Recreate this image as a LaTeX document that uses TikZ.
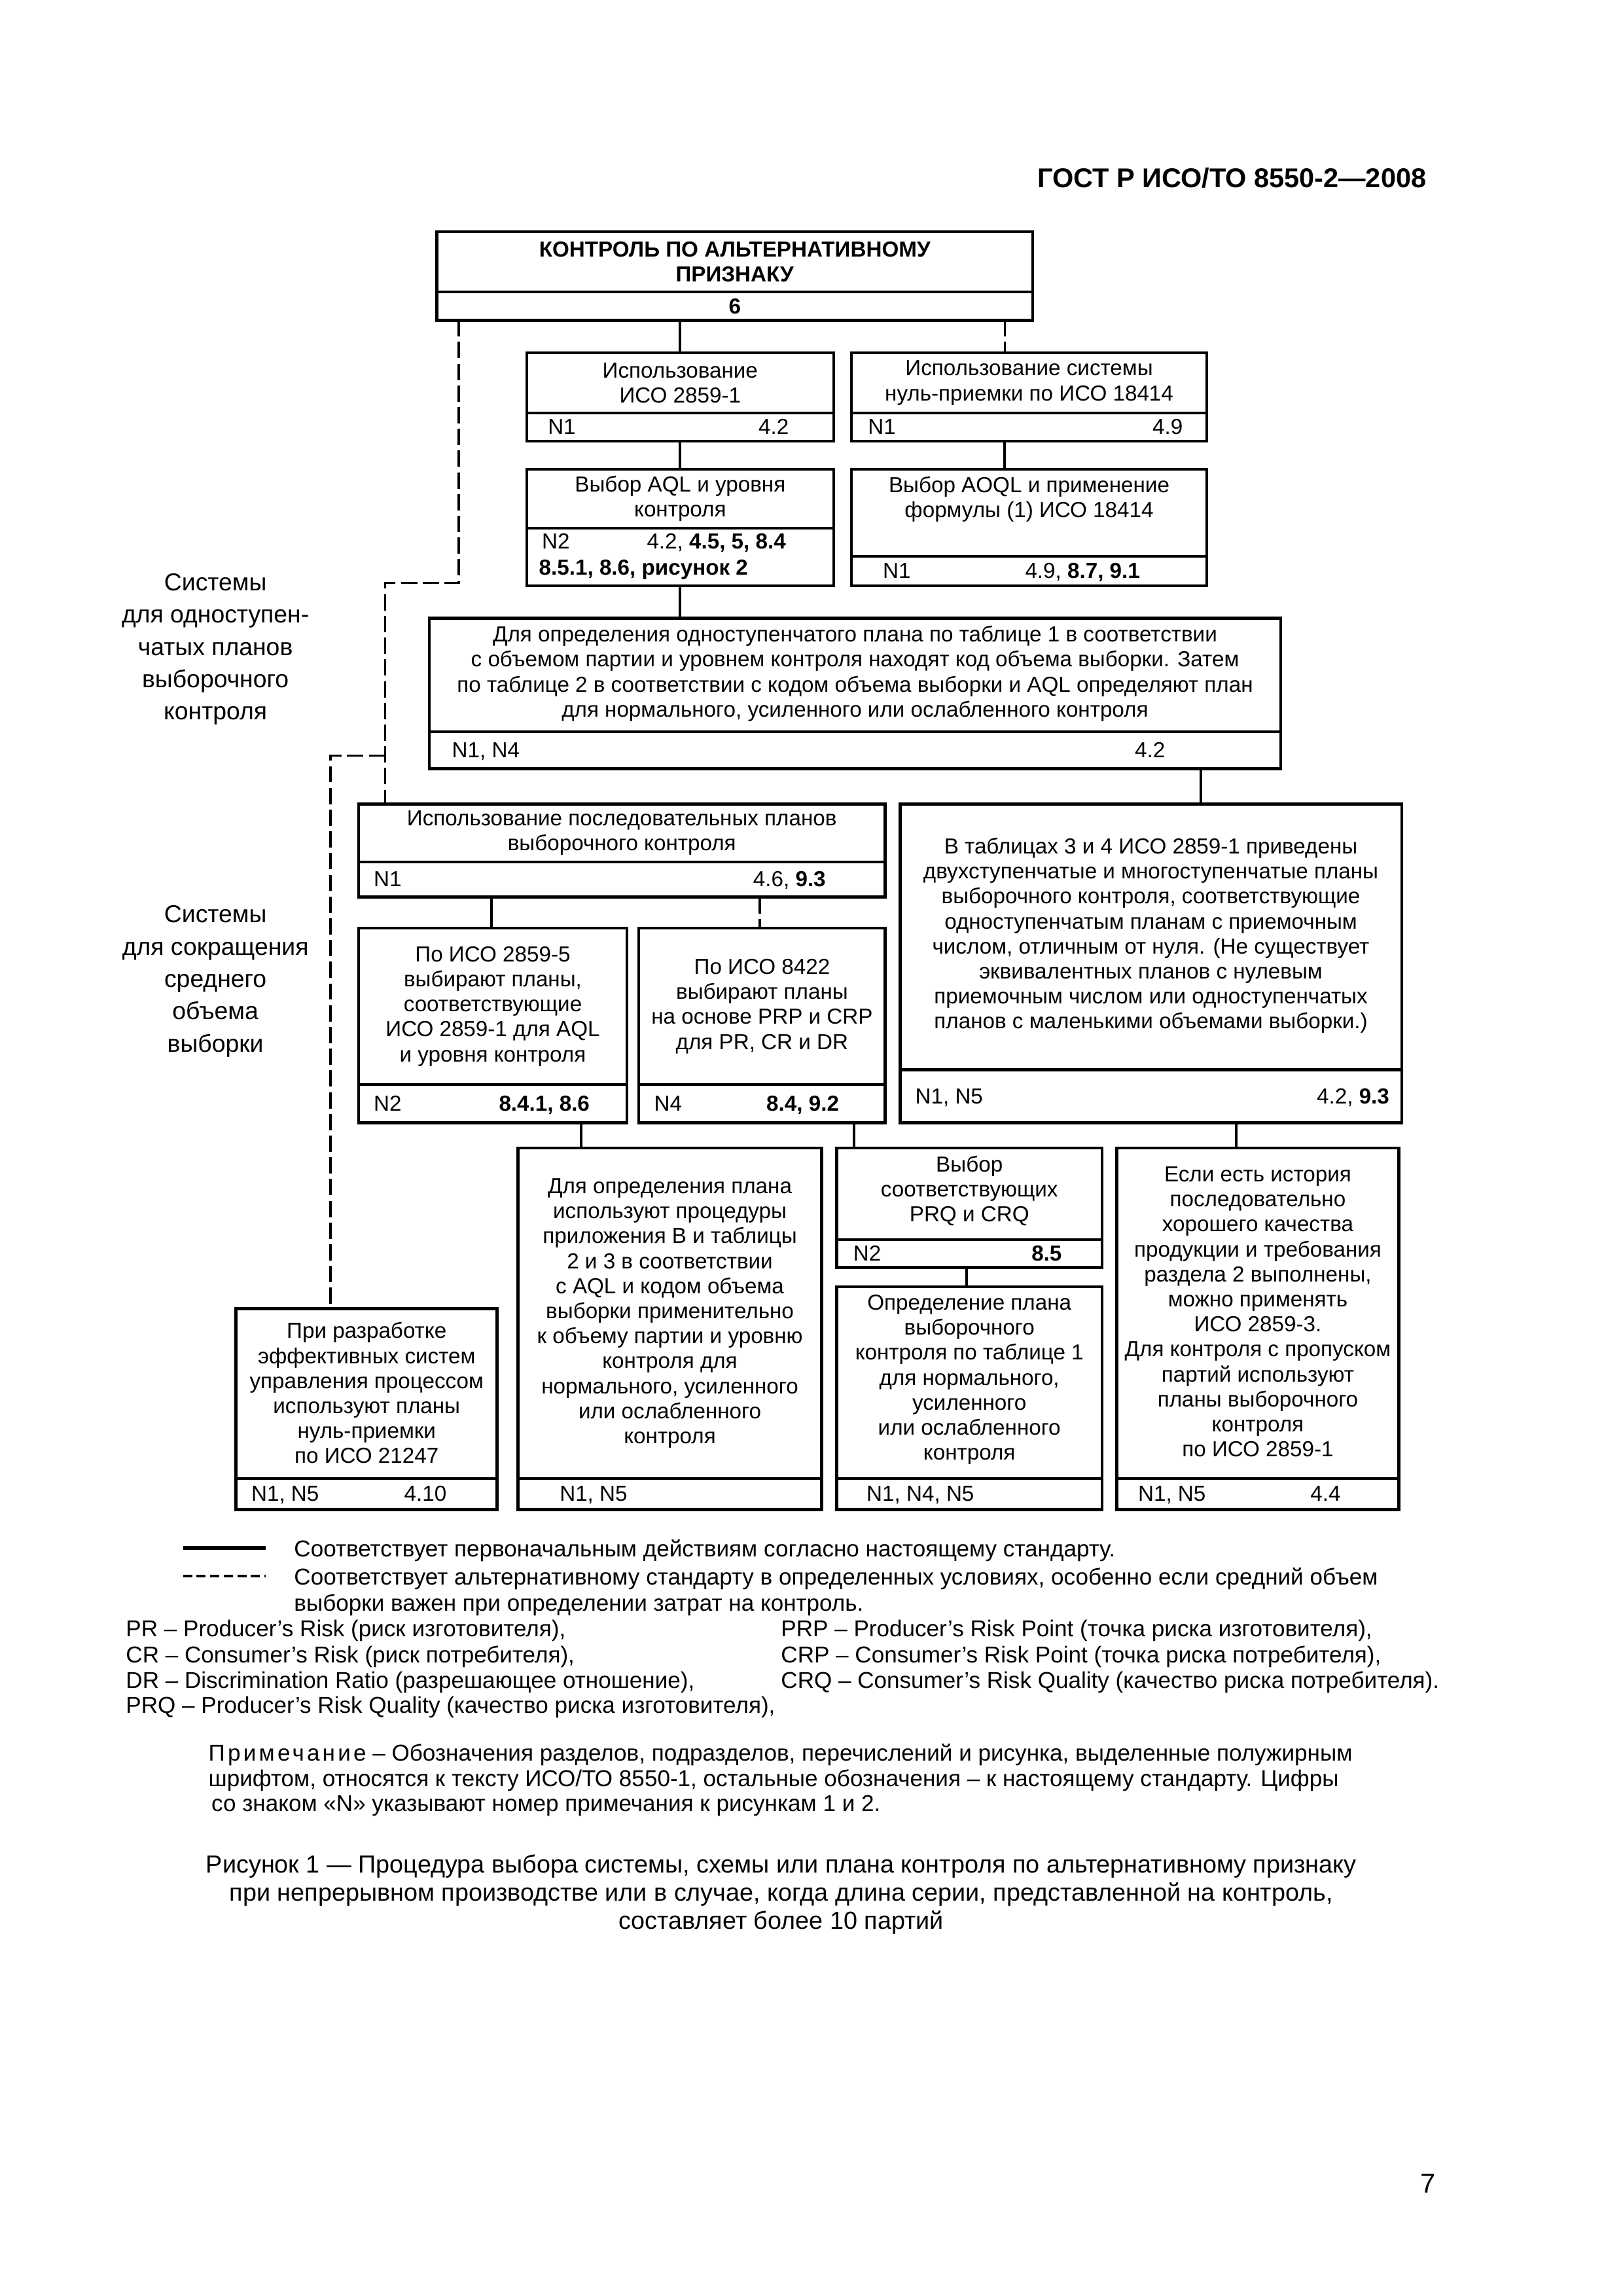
\documentclass[tikz,border=0pt]{standalone}
\usepackage{fontspec}
\setmainfont{Liberation Sans}
\usetikzlibrary{calc}
\newcommand{\mkbox}[6]{%
  \node[box, minimum width={(#4-#2)*0.19091mm}, minimum height={(#5-#3)*0.19091mm}] (#1) at ({(#2+#4)/2},{(#3+#5)/2}) {};
  \coordinate (#1dv) at (0,#6);
  \draw[divider] (#1.west |- #1dv) -- (#1.east |- #1dv);
}
\tikzset{
  box/.style={draw, line width=1.1pt, inner sep=0pt, outer sep=0pt, rectangle},
  divider/.style={line width=1pt},
  conn/.style={line width=1pt},
  altconn/.style={line width=0.8pt, dash pattern=on 6pt off 2pt},
  txt/.style={font=\fontsize{8}{9.2}\selectfont, align=center, inner sep=0pt},
  ft/.style={font=\fontsize{8}{9.2}\selectfont, inner sep=0pt, anchor=base west},
  fr/.style={font=\fontsize{8}{9.2}\selectfont, inner sep=0pt, anchor=base east},
  side/.style={font=\fontsize{9}{11.9}\selectfont, align=center, inner sep=0pt},
  para/.style={font=\fontsize{8.45}{9.5}\selectfont, inner sep=0pt, anchor=base west},
}
\begin{document}
\begin{tikzpicture}[x=0.19091mm, y=-0.19091mm]
\fill[white] (0,0) rectangle (1100,1556);
\useasboundingbox (0,0) rectangle (1100,1556);

% header and page number
\node[font=\bfseries\fontsize{10}{12}\selectfont, inner sep=0pt, anchor=base east] (hdr) at (967,127) {ГОСТ Р ИСО/ТО 8550-2—2008};
\node[font=\fontsize{10}{12}\selectfont, inner sep=0pt, anchor=base] (pg) at (968,1486) {7};

% boxes
\mkbox{A}{296}{157}{700}{217}{198}
\node[txt, font=\fontsize{8}{9.2}\selectfont\bfseries] (At) at (498,177.5) {КОНТРОЛЬ ПО АЛЬТЕРНАТИВНОМУ\\ПРИЗНАКУ};
\node[txt, font=\fontsize{8}{9.2}\selectfont\bfseries] (A6) at (498,207.5) {6};

\mkbox{B}{357}{239}{565}{299}{280}
\node[txt] (Bt) at (461,259.5) {Использование\\ИСО 2859-1};
\node[ft] (Bl) at (371,294.5) {N1};
\node[fr] (Br) at (535,294.5) {4.2};

\mkbox{C}{577}{239}{818}{299}{280}
\node[txt] (Ct) at (697.5,259.5) {Использование системы\\нуль-приемки по ИСО 18414};
\node[ft] (Cl) at (588,294.5) {N1};
\node[fr] (Cr) at (802,294.5) {4.9};

\mkbox{D}{357}{318}{565}{397}{358}
\node[txt] (Dt) at (461,338) {Выбор AQL и уровня\\контроля};
\node[ft] (Dl) at (367,372) {N2};
\node[fr] (Dr) at (533,372) {4.2, \textbf{4.5, 5, 8.4}};
\node[ft] (Dl2) at (365,389.5) {\textbf{8.5.1, 8.6, рисунок 2}};

\mkbox{E}{577}{318}{818}{397}{377}
\node[txt] (Et) at (697.5,338.5) {Выбор AOQL и применение\\формулы (1) ИСО 18414};
\node[ft] (El) at (598,392) {N1};
\node[fr] (Er) at (773,392) {4.9, \textbf{8.7, 9.1}};

\mkbox{F}{291}{419}{868}{521}{496}
\node[txt] (Ft) at (579.5,456.5) {Для определения одноступенчатого плана по таблице 1 в соответствии\\с объемом партии и уровнем контроля находят код объема выборки. Затем\\по таблице 2 в соответствии с кодом объема выборки и AQL определяют план\\для нормального, усиленного или ослабленного контроля};
\node[ft] (Fl) at (306,513.5) {N1, N4};
\node[fr] (Fr) at (790,513.5) {4.2};

\mkbox{G}{243}{545}{600}{608}{584}
\node[txt] (Gt) at (421.5,564.5) {Использование последовательных планов\\выборочного контроля};
\node[ft] (Gl) at (253,601) {N1};
\node[fr] (Gr) at (560,601) {4.6, \textbf{9.3}};

\mkbox{I}{610}{545}{950}{761}{725}
\node[txt] (It) at (780,634) {В таблицах 3 и 4 ИСО 2859-1 приведены\\двухступенчатые и многоступенчатые планы\\выборочного контроля, соответствующие\\одноступенчатым планам с приемочным\\числом, отличным от нуля. (Не существует\\эквивалентных планов с нулевым\\приемочным числом или одноступенчатых\\планов с маленькими объемами выборки.)};
\node[ft] (Il) at (620,748) {N1, N5};
\node[fr] (Ir) at (942,748) {4.2, \textbf{9.3}};

\mkbox{HA}{243}{629}{425}{761}{735}
\node[txt] (HAt) at (334,682) {По ИСО 2859-5\\выбирают планы,\\соответствующие\\ИСО 2859-1 для AQL\\и уровня контроля};
\node[ft] (HAl) at (253,753) {N2};
\node[fr] (HAr) at (400,753) {\textbf{8.4.1, 8.6}};

\mkbox{HB}{433}{629}{600}{761}{735}
\node[txt] (HBt) at (516.5,682) {По ИСО 8422\\выбирают планы\\на основе PRP и CRP\\для PR, CR и DR};
\node[ft] (HBl) at (443,753) {N4};
\node[fr] (HBr) at (569,753) {\textbf{8.4, 9.2}};

\mkbox{J}{160}{887}{337}{1023}{1002}
\node[txt] (Jt) at (248.5,944) {При разработке\\эффективных систем\\управления процессом\\используют планы\\нуль-приемки\\по ИСО 21247};
\node[ft] (Jl) at (170,1017.5) {N1, N5};
\node[fr] (Jr) at (303,1017.5) {4.10};

\mkbox{K}{351}{778}{557}{1023}{1002}
\node[txt] (Kt) at (454,890) {Для определения плана\\используют процедуры\\приложения В и таблицы\\2 и 3 в соответствии\\с AQL и кодом объема\\выборки применительно\\к объему партии и уровню\\контроля для\\нормального, усиленного\\или ослабленного\\контроля};
\node[ft] (Kl) at (379,1017.5) {N1, N5};

\mkbox{L}{567}{778}{747}{859}{840}
\node[txt] (Lt) at (657,807) {Выбор\\соответствующих\\PRQ и CRQ};
\node[ft] (Ll) at (578,854.5) {N2};
\node[fr] (Lr) at (720,854.5) {\textbf{8.5}};

\mkbox{M}{567}{872}{747}{1023}{1002}
\node[txt] (Mt) at (657,935) {Определение плана\\выборочного\\контроля по таблице 1\\для нормального,\\усиленного\\или ослабленного\\контроля};
\node[ft] (Ml) at (587,1017.5) {N1, N4, N5};

\mkbox{N}{757}{778}{948}{1023}{1002}
\node[txt] (Nt) at (852.5,889) {Если есть история\\последовательно\\хорошего качества\\продукции и требования\\раздела 2 выполнены,\\можно применять\\ИСО 2859-3.\\Для контроля с пропуском\\партий используют\\планы выборочного\\контроля\\по ИСО 2859-1};
\node[ft] (Nl) at (771,1017.5) {N1, N5};
\node[fr] (Nr) at (909,1017.5) {4.4};

% connectors
\coordinate (xAC) at (681,0);
\coordinate (xGH) at (333,0);
\coordinate (xGHB) at (515,0);
\coordinate (xHK) at (394,0);
\coordinate (xHL) at (579,0);
\coordinate (xFI) at (814,0);
\coordinate (xIN) at (838,0);
\coordinate (xLM) at (655,0);
\draw[conn] (B.north |- A.south) -- (B.north);
\draw[altconn] (A.south -| xAC) -- (C.north -| xAC);
\draw[conn] (B.south) -- (D.north);
\draw[conn] (C.south -| xAC) -- (E.north -| xAC);
\draw[conn] (D.south) -- (F.north -| D.south);
\draw[conn] (F.south -| xFI) -- (I.north -| xFI);
\draw[conn] (G.south -| xGH) -- (HA.north -| xGH);
\draw[altconn] (G.south -| xGHB) -- (HB.north -| xGHB);
\draw[conn] (HA.south -| xHK) -- (K.north -| xHK);
\draw[conn] (HB.south -| xHL) -- (L.north -| xHL);
\draw[conn] (I.south -| xIN) -- (N.north -| xIN);
\draw[conn] (L.south -| xLM) -- (M.north -| xLM);

\coordinate (d1) at (311,395);
\coordinate (d2) at (261,395);
\coordinate (d3) at (261,512);
\coordinate (d4) at (224,512);
\draw[altconn] (A.south -| d1) -- (d1) -- (d2) -- (G.north -| d2);
\draw[altconn] (d3) -- (d4) -- (J.north -| d4);

% side labels
\node[side] (S1) at (146,440) {Системы\\для одноступен-\\чатых планов\\выборочного\\контроля};
\node[side] (S2) at (146,665) {Системы\\для сокращения\\среднего\\объема\\выборки};

% legend
\coordinate (lg1a) at (124,1049);
\coordinate (lg1b) at (180,1049);
\coordinate (lg2a) at (124,1068);
\coordinate (lg2b) at (180,1068);
\draw[line width=1.3pt] (lg1a) -- (lg1b);
\draw[line width=1pt, dash pattern=on 3.4pt off 1.6pt] (lg2a) -- (lg2b);
\node[para] (L1) at (199,1055) {Соответствует первоначальным действиям согласно настоящему стандарту.};
\node[para] (L2) at (199,1074) {Соответствует альтернативному стандарту в определенных условиях, особенно если средний объем};
\node[para] (L3) at (199,1092) {выборки важен при определении затрат на контроль.};
\node[para] (L4) at (85,1109) {PR – Producer's Risk (риск изготовителя),};
\node[para] (L5) at (85,1127) {CR – Consumer's Risk (риск потребителя),};
\node[para] (L6) at (85,1144) {DR – Discrimination Ratio (разрешающее отношение),};
\node[para] (L7) at (85,1161) {PRQ – Producer's Risk Quality (качество риска изготовителя),};
\node[para] (L8) at (529,1109) {PRP – Producer's Risk Point (точка риска изготовителя),};
\node[para] (L9) at (529,1127) {CRP – Consumer's Risk Point (точка риска потребителя),};
\node[para] (L10) at (529,1144) {CRQ – Consumer's Risk Quality (качество риска потребителя).};

% note
\node[para] (N1) at (141,1193.5) {{\addfontfeature{LetterSpace=12}Примечание} – Обозначения разделов, подразделов, перечислений и рисунка, выделенные полужирным};
\node[para] (N2) at (141,1210.5) {шрифтом, относятся к тексту ИСО/ТО 8550-1, остальные обозначения – к настоящему стандарту. Цифры};
\node[para] (N3) at (143,1227.5) {со знаком «N» указывают номер примечания к рисункам 1 и 2.};

% caption
\node[font=\fontsize{9.1}{10.3}\selectfont, align=center, inner sep=0pt] (cap) at (529.5,1284) {Рисунок 1 — Процедура выбора системы, схемы или плана контроля по альтернативному признаку\\при непрерывном производстве или в случае, когда длина серии, представленной на контроль,\\составляет более 10 партий};
\end{tikzpicture}
\end{document}
